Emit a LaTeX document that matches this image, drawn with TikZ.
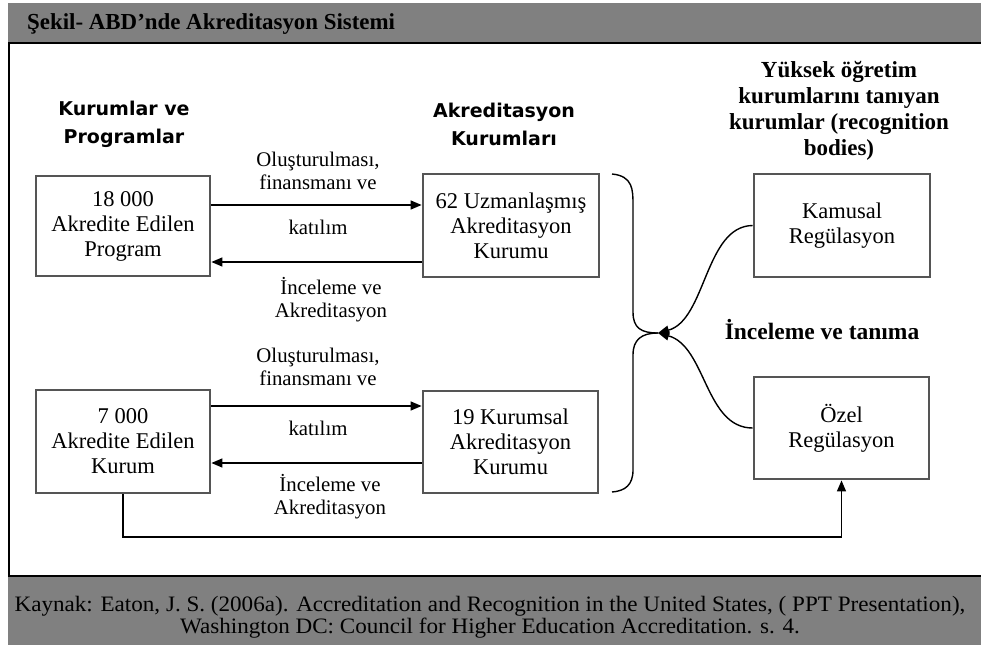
\documentclass[tikz,border=0pt]{standalone}
\usepackage{fontspec}
\setmainfont{Liberation Serif}
\newfontfamily\headsans{DejaVu Sans}
\newfontfamily\srcfont{Liberation Serif}[FakeStretch=1.05]
\usetikzlibrary{arrows.meta}
\definecolor{band}{HTML}{808080}
\definecolor{boxline}{HTML}{555555}
\begin{document}
\begin{tikzpicture}[x=1pt,y=-1pt,
  boxnode/.style={draw=boxline,line width=2.8pt,fill=white,align=center,inner sep=0pt,
    font=\fontsize{22.5}{25}\selectfont},
  lbl/.style={align=center,inner sep=0pt,font=\fontsize{20.8}{23}\selectfont},
  headA/.style={align=center,inner sep=0pt,font=\headsans\bfseries\fontsize{19}{28}\selectfont},
  headB/.style={align=center,inner sep=0pt,font=\bfseries\fontsize{23}{26}\selectfont},
  arr/.style={line width=1.4pt,-{Triangle[length=11pt,width=9pt]}},
  plain/.style={line width=1.4pt}]
\useasboundingbox (0,0) rectangle (981,645);
\fill[white] (0,0) rectangle (981,645);
% bands
\fill[band] (8,3) rectangle (981,43);
\fill[band] (8,576) rectangle (981,645);
\draw[line width=1.8pt] (8,43) -- (981,43);
\draw[line width=1.8pt] (8,576) -- (981,576);
\draw[line width=1.8pt] (9,43) -- (9,576);
\node[anchor=west,inner sep=0pt,font=\bfseries\fontsize{22.9}{26}\selectfont] (title) at (27,24) {Şekil- ABD’nde Akreditasyon Sistemi};
\node[align=center,inner sep=0pt,font=\srcfont\fontsize{22}{22}\selectfont] (src) at (490,617) {Kaynak: Eaton, J. S. (2006a). Accreditation and Recognition in the United States, ( PPT Presentation),\\Washington DC: Council for Higher Education Accreditation. s. 4.};
% headings
\node[headA] (h1) at (124,124) {Kurumlar ve\\Programlar};
\node[headA] (h2) at (504,124) {Akreditasyon\\Kurumları};
\node[headB] (h3) at (839,111) {Yüksek öğretim\\kurumlarını tanıyan\\kurumlar (recognition\\bodies)};
\node[headB,font=\bfseries\fontsize{23.5}{26}\selectfont] (h4) at (822,330) {İnceleme ve tanıma};
% boxes
\node[boxnode,minimum width=174pt,minimum height=100pt] (A) at (123,226) {18 000\\Akredite Edilen\\Program};
\node[boxnode,minimum width=176pt,minimum height=103pt] (B) at (511,225.5) {62 Uzmanlaşmış\\Akreditasyon\\Kurumu};
\node[boxnode,minimum width=176pt,minimum height=103pt] (K) at (842,225.5) {Kamusal\\Regülasyon};
\node[boxnode,minimum width=174pt,minimum height=103pt] (C) at (123,441.5) {7 000\\Akredite Edilen\\Kurum};
\node[boxnode,minimum width=175pt,minimum height=102pt] (D) at (510.5,442) {19 Kurumsal\\Akreditasyon\\Kurumu};
\node[boxnode,minimum width=175pt,minimum height=102pt] (E) at (841.5,428) {Özel\\Regülasyon};
% arrow labels
\node[lbl] (l1) at (318,171) {Oluşturulması,\\finansmanı ve};
\node[lbl] (l2) at (318,227) {katılım};
\node[lbl] (l3) at (331,300) {İnceleme ve\\Akreditasyon};
\node[lbl] (l4) at (318,367) {Oluşturulması,\\finansmanı ve};
\node[lbl] (l5) at (318,428) {katılım};
\node[lbl] (l6) at (330,497) {İnceleme ve\\Akreditasyon};
% horizontal arrows
\draw[arr] ([yshift=21pt]A.east) -- ([yshift=20.5pt]B.west);
\draw[arr] ([yshift=-36.5pt]B.west) -- ([yshift=-36pt]A.east);
\draw[arr] ([yshift=35.5pt]C.east) -- ([yshift=36pt]D.west);
\draw[arr] ([yshift=-21pt]D.west) -- ([yshift=-21.5pt]C.east);
% bottom connector
\coordinate (bl) at (480,537);
\draw[arr] (C.south) |- (bl) -| (E.south);
% brace
\coordinate (tip) at (658,333);
\draw[plain] (612,174) .. controls (633,176) and (633,190) .. (633,205) -- (633,312)
  .. controls (633,328) and (641,333) .. (tip);
\draw[plain] (tip) .. controls (641,333) and (633,340) .. (633,355) -- (633,470)
  .. controls (633,485) and (625,491) .. (612,492);
% curved arrows
\draw[arr] (K.west) .. controls (705,226) and (706,320) .. (tip);
\draw[arr] (E.west) .. controls (705,428) and (706,346) .. (tip);
\end{tikzpicture}
\end{document}
